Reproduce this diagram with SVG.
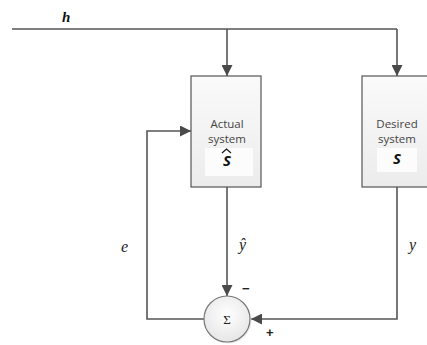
<svg xmlns="http://www.w3.org/2000/svg" width="427" height="345" viewBox="0 0 427 345">
<defs>
<marker id="arr" viewBox="0 0 10 10" refX="10" refY="5" markerWidth="11" markerHeight="11" markerUnits="userSpaceOnUse" orient="auto">
<path d="M0,0 L10,5 L0,10 z" fill="#4a4a4a"/>
</marker>
<linearGradient id="boxg" x1="0" y1="0" x2="0" y2="1">
<stop offset="0" stop-color="#fafafa"/>
<stop offset="1" stop-color="#ececec"/>
</linearGradient>
<radialGradient id="cg" cx="0.5" cy="0.4" r="0.6">
<stop offset="0" stop-color="#ffffff"/>
<stop offset="1" stop-color="#e6e6e6"/>
</radialGradient>
</defs>
<style>
.ln{fill:none;stroke:#555;stroke-width:1.6}
.box{fill:url(#boxg);stroke:#555;stroke-width:1.2}
.bt{font-family:"Open Sans","Liberation Sans",sans-serif;font-size:11.5px;fill:#444;text-anchor:middle}
.sym{font-family:"Open Sans","Liberation Sans",sans-serif;font-size:15px;font-weight:bold;font-style:italic;fill:#111;text-anchor:middle}
.math{font-family:"Liberation Serif","DejaVu Serif",serif;font-style:italic;font-size:16px;fill:#222}
.sign{font-family:"Liberation Sans",sans-serif;font-weight:bold;font-size:13px;fill:#222}
</style>
<rect width="427" height="345" fill="#fff"/>
<g id="connectors">
<path class="ln" d="M12,29 H397"/>
<path class="ln" d="M227,29 V76" marker-end="url(#arr)"/>
<path class="ln" d="M397,29 V76" marker-end="url(#arr)"/>
<path class="ln" d="M227,187 V296" marker-end="url(#arr)"/>
<path class="ln" d="M397,187 V319 H251" marker-end="url(#arr)"/>
<path class="ln" d="M204,319 H147 V131 H191" marker-end="url(#arr)"/>
</g>
<g id="actual">
<rect class="box" x="191" y="76" width="70" height="111"/>
<rect x="205" y="148" width="48" height="28" fill="#fcfcfc"/>
<text class="bt" x="227" y="128">Actual</text>
<text class="bt" x="227" y="143">system</text>
<text class="sym" x="227" y="166">S</text>
<path d="M222,153 L226.5,149 L231,153" fill="none" stroke="#111" stroke-width="1.1"/>
</g>
<g id="desired">
<rect class="box" x="362" y="76" width="70" height="111"/>
<rect x="377" y="148" width="40" height="24" fill="#fcfcfc"/>
<text class="bt" x="397" y="128">Desired</text>
<text class="bt" x="397" y="143">system</text>
<text class="sym" x="397" y="164">S</text>
</g>
<g id="sum">
<circle cx="227" cy="319" r="23" fill="#e0e0e0" opacity="0.6" transform="translate(1.5,1.5)"/>
<circle cx="227" cy="319" r="23" fill="url(#cg)" stroke="#777" stroke-width="1.2"/>
<text x="227" y="324" font-family="Liberation Serif,DejaVu Serif,serif" font-size="13" fill="#222" text-anchor="middle">Σ</text>
</g>
<g id="labels">
<text x="62" y="22" font-family="Liberation Serif,DejaVu Serif,serif" font-style="italic" font-weight="bold" font-size="15" fill="#111">h</text>
<text class="math" x="121" y="252">e</text>
<text class="math" x="239" y="250">ŷ</text>
<text class="math" x="409" y="250">y</text>
<text class="sign" x="242" y="293">−</text>
<text class="sign" x="266" y="337">+</text>
</g>
</svg>
